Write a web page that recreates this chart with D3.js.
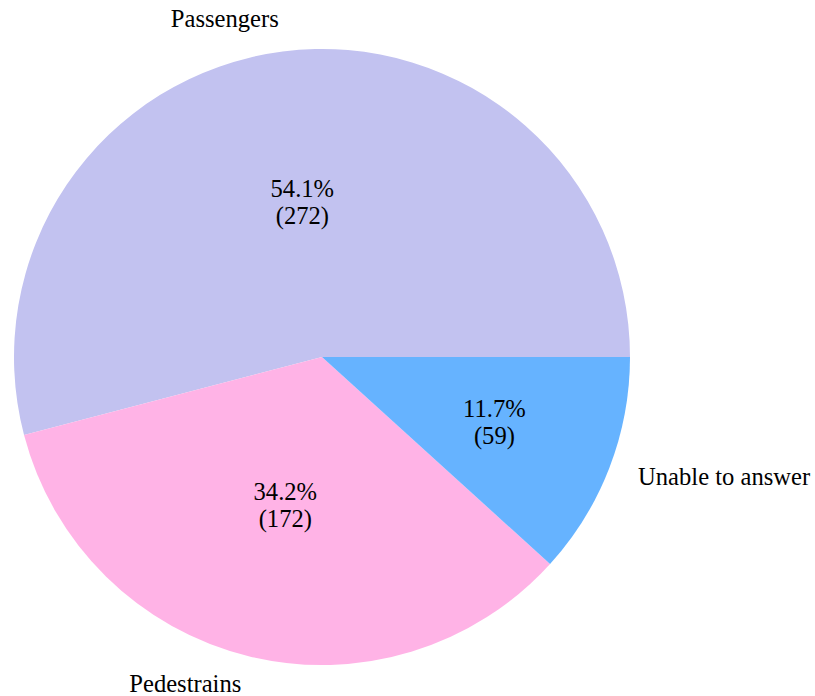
<!DOCTYPE html>
<html>
<head>
<meta charset="utf-8">
<script src="https://cdn.jsdelivr.net/npm/d3@7"></script>
</head>
<body style="margin:0">
<script>
const categories = ["Passengers", "Pedestrains", "Unable to answer"];
const counts = [272, 172, 59];
const colors = ["#c2c2f0", "#ffb3e6", "#66b3ff"];

const W = 815, H = 696;
const cx = 322, cy = 357, R = 308;
const pctRadius = [0.5, 0.5, 0.6];
const FS = 24.6;

const svg = d3.select("body").append("svg").attr("width", W).attr("height", H)
  .style("display", "block");

const total = d3.sum(counts);
const pie = d3.pie().sort(null).value(d => d)
  .startAngle(Math.PI / 2).endAngle(Math.PI / 2 - 2 * Math.PI);
const arcs = pie(counts);
const arc = d3.arc().innerRadius(0).outerRadius(R);

svg.append("g").attr("transform", `translate(${cx},${cy})`)
  .selectAll("path").data(arcs).enter().append("path")
  .attr("d", arc)
  .attr("fill", (d, i) => colors[i]);

function pos(d, r) {
  const a = (d.startAngle + d.endAngle) / 2;
  return [cx + Math.sin(a) * r, cy - Math.cos(a) * r];
}

// outer labels
arcs.forEach((d, i) => {
  const [x, y] = pos(d, 1.1 * R);
  svg.append("text")
    .attr("x", x).attr("y", y + 6)
    .attr("font-size", FS)
    .attr("font-family", "Liberation Serif")
    .attr("text-anchor", x < cx ? "end" : "start")
    .text(categories[i]);
});

// percentage labels (two lines)
arcs.forEach((d, i) => {
  const [x, y] = pos(d, pctRadius[i] * R);
  svg.append("text")
    .attr("x", x).attr("y", y - 7)
    .attr("font-size", FS)
    .attr("font-family", "Liberation Serif")
    .attr("text-anchor", "middle")
    .text((counts[i] / total * 100).toFixed(1) + "%");
  svg.append("text")
    .attr("x", x).attr("y", y + 20)
    .attr("font-size", FS)
    .attr("font-family", "Liberation Serif")
    .attr("text-anchor", "middle")
    .text("(" + counts[i] + ")");
});
</script>
</body>
</html>
